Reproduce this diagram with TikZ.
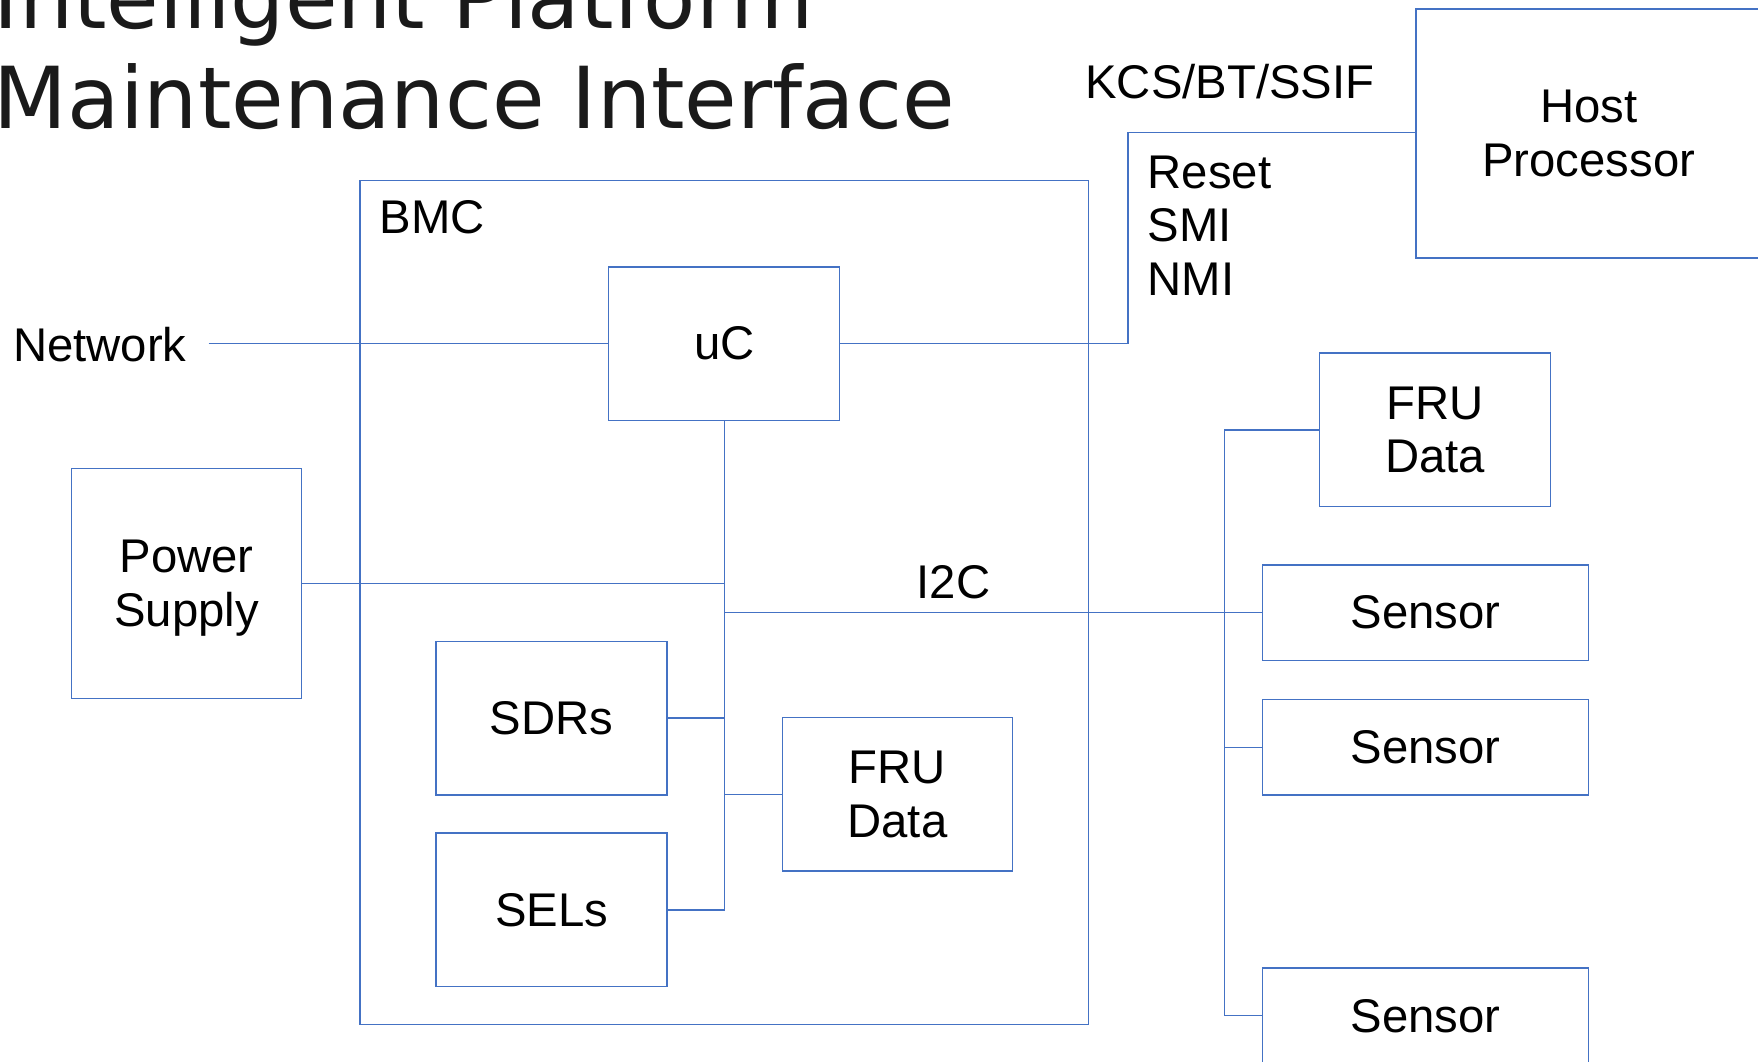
\documentclass[tikz,border=0pt]{standalone}
\usepackage{fontspec}
\setmainfont{Liberation Sans}
\newfontfamily\titlefont{DejaVu Sans}
\definecolor{linec}{HTML}{4472C4}
\definecolor{titlec}{HTML}{1A1A1A}
\newcommand{\lblfont}{\fontsize{12}{13.6}\selectfont}
\begin{document}
\begin{tikzpicture}[x=0.1mm,y=-0.1mm, line width=0.35pt,
  box/.style={draw=linec, inner sep=0pt, align=center, font=\lblfont, text=black},
  lbl/.style={inner sep=0pt, font=\lblfont, text=black},
  ttl/.style={inner sep=0pt, font=\titlefont\fontsize{21.7}{25}\selectfont, text=titlec, anchor=base west},
  wire/.style={draw=linec, line width=0.35pt}]
\useasboundingbox (0,0) rectangle (1568,947);

% title
\node[ttl] (title1) at (-6,25) {Intelligent Platform};
\node[ttl] (title2) at (-6,115) {Maintenance Interface};

% boxes
\node[box, minimum width=65mm, minimum height=75.3mm] (bmc) at (646,537.5) {};
\node[lbl, anchor=west] (bmclbl) at (338,194) {BMC};
\node[box, minimum width=30.8mm, minimum height=22.2mm] (host) at (1417,119) {Host\\Processor};
\node[box, minimum width=20.6mm, minimum height=13.7mm] (uc) at (646,306.5) {uC};
\node[box, minimum width=20.5mm, minimum height=20.5mm,
  label={[lbl, align=center, yshift=-0.4mm]center:{Power\\Supply}}] (ps) at (166.5,520.5) {};
\node[box, minimum width=20.6mm, minimum height=13.7mm] (sdrs) at (492,640.5) {SDRs};
\node[box, minimum width=20.6mm, minimum height=13.7mm] (sels) at (492,811.5) {SELs};
\node[box, minimum width=20.5mm, minimum height=13.7mm] (fru1) at (800.5,708.5) {FRU\\Data};
\node[box, minimum width=20.6mm, minimum height=13.7mm] (fru2) at (1280,383.5) {FRU\\Data};
\node[box, minimum width=29.1mm, minimum height=8.5mm] (s1) at (1271.5,546.5) {Sensor};
\node[box, minimum width=29.1mm, minimum height=8.5mm] (s2) at (1271.5,666.5) {Sensor};
\node[box, minimum width=29.1mm, minimum height=8.5mm] (s3) at (1271.5,906) {Sensor};

% labels
\node[lbl, anchor=west] (network) at (11,307) {Network};
\node[lbl] (kcs) at (1097,73) {KCS/BT/SSIF};
\node[lbl, anchor=west, align=left] (sig) at (1023,201) {Reset\\SMI\\NMI};
\node[lbl] (i2c) at (850.5,519) {I2C};

% helper coordinates
\coordinate (netend) at (186,306.5);
\coordinate (kink) at (1006,118);
\coordinate (rb) at (1092,0);

% connectors
\draw[wire] (netend) -- (uc.west);
\draw[wire] (uc.east) -| (kink) -- (kink -| host.west);
\draw[wire] (sels.east) -| (uc.south);
\draw[wire] (ps.east) -- (ps.east -| uc.south);
\draw[wire] (sdrs.east) -- (sdrs.east -| uc.south);
\draw[wire] (fru1.west) -- (fru1.west -| uc.south);
\draw[wire] (s1.west) -- (s1.west -| uc.south);
\draw[wire] (fru2.west) -- (fru2.west -| rb) -- (s3.west -| rb) -- (s3.west);
\draw[wire] (s2.west) -- (s2.west -| rb);
\end{tikzpicture}
\end{document}
